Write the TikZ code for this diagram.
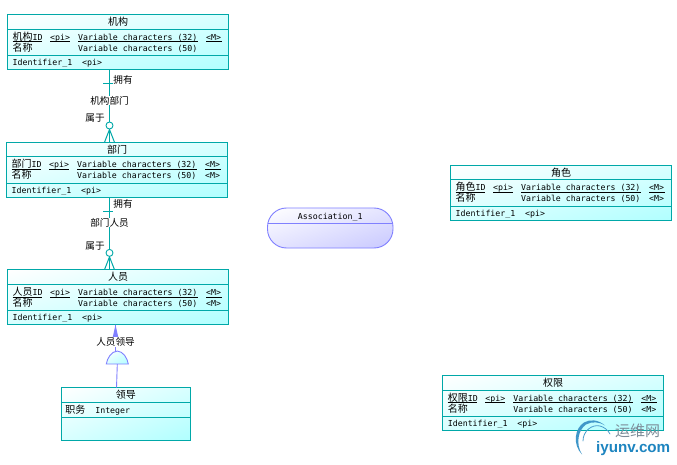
\documentclass[tikz,border=0pt]{standalone}
\usepackage{fontspec}
\setmonofont{DejaVu Sans Mono}
\setsansfont{Liberation Sans}
\newfontfamily\cjk{Noto Sans CJK SC}
\usetikzlibrary{arrows.meta,calc,shadings}
\definecolor{ent}{HTML}{00A8A8}
\definecolor{entfill}{HTML}{B0FFFF}
\definecolor{entmid}{HTML}{D8FFFF}
\definecolor{asc}{HTML}{8080FF}
\definecolor{ascfill}{HTML}{C8C8FF}
\definecolor{ascmid}{HTML}{E4E4FF}
\definecolor{wmblue}{HTML}{1E85C0}
\definecolor{wmgrey}{HTML}{7C8C98}
\tikzset{
  x=1pt,y=1pt,
  entbox/.style={draw=ent,line width=0.9pt,rectangle,inner sep=0,outer sep=0,minimum width=221pt,
    upper left=white,upper right=entmid,lower left=entmid,lower right=entfill,anchor=north west},
  ln/.style={draw=ent,line width=0.9pt},
  conn/.style={draw=ent,line width=1pt},
  inh/.style={draw=asc,line width=0.9pt},
  txt/.style={inner sep=0,anchor=base west,font=\ttfamily\fontsize{8.25}{9}\selectfont,text=black},
  ttl/.style={inner sep=0,anchor=base,font=\ttfamily\fontsize{8.25}{9}\selectfont,text=black},
  lab/.style={inner sep=0.3pt,fill=white,font=\cjk\fontsize{9.6}{10}\selectfont,text=black},
  ul/.style={draw=black,line width=0.6pt},
}
\newcommand{\cj}[1]{{\cjk\fontsize{10}{9}\selectfont #1}}
% name, x, y, title, cjk key, second-row <M>
\newcommand{\entitybox}[6]{%
  \node[entbox,minimum height=55pt] (#1) at (#2,#3) {};
  \draw[ln] ($(#1.north west)+(0,-14.5)$) -- ($(#1.north east)+(0,-14.5)$);
  \draw[ln] ($(#1.north west)+(0,-40.8)$) -- ($(#1.north east)+(0,-40.8)$);
  \node[ttl] (#1t) at ($(#1.north)+(0,-11)$) {\cj{#4}};
  \node[txt] (#1a) at ($(#1.north west)+(5,-25.7)$) {\cj{#5}ID};
  \node[txt] (#1b) at ($(#1.north west)+(42.5,-25.7)$) {<pi>};
  \node[txt] (#1c) at ($(#1.north west)+(70.5,-25.7)$) {Variable characters (32)};
  \node[txt] (#1d) at ($(#1.north west)+(198.5,-25.7)$) {<M>};
  \node[txt] (#1e) at ($(#1.north west)+(5,-36.7)$) {\cj{名称}};
  \node[txt] (#1f) at ($(#1.north west)+(70.5,-36.7)$) {Variable characters (50)};
  \node[txt] (#1g) at ($(#1.north west)+(198.5,-36.7)$) {#6};
  \node[txt] (#1h) at ($(#1.north west)+(5,-51)$) {Identifier\_1\ \ <pi>};
  \draw[ul] ($(#1.north west)+(5,-27.2)$) -- ($(#1.north west)+(34.5,-27.2)$);
  \draw[ul] ($(#1.north west)+(42.5,-27.2)$) -- ($(#1.north west)+(62.5,-27.2)$);
  \draw[ul] ($(#1.north west)+(70.5,-27.2)$) -- ($(#1.north west)+(190.5,-27.2)$);
  \draw[ul] ($(#1.north west)+(198.5,-27.2)$) -- ($(#1.north west)+(214,-27.2)$);
}
% top entity, bottom entity, port offset from west, prefix, port offset, label, label drop, upper role drop
\newcommand{\crowlink}[8]{%
  \path (#1.south west) ++(#3,0) coordinate (#4u);
  \path (#2.north west) ++(#5,0) coordinate (#4d);
  \draw[conn] (#4u) -- (#4d);
  \draw[conn] ($(#4u)+(-6.5,-14)$) -- ($(#4u)+(3,-14)$);
  \node[draw=ent,line width=0.9pt,fill=white,circle,inner sep=0,minimum size=7pt] (#4c) at ($(#4d)+(0,16.8)$) {};
  \draw[conn] (#4c.south) -- ($(#4d)+(-5,0)$);
  \draw[conn] (#4c.south) -- ($(#4d)+(5,0)$);
  \node[lab] (#4r) at ($(#4u)+(13.5,-#8)$) {拥有};
  \node[lab] (#4m) at ($(#4u)+(0,-#7)$) {#6};
  \node[lab] (#4s) at ($(#4d)+(-14.5,24)$) {属于};
}
\begin{document}
\begin{tikzpicture}
\useasboundingbox (0,0) rectangle (677,-465);
\fill[white] (0,0) rectangle (677,-465);

\entitybox{jg}{7.5}{-14.5}{机构}{机构}{}
\entitybox{bm}{6.5}{-142.3}{部门}{部门}{<M>}
\entitybox{ry}{7.5}{-269.7}{人员}{人员}{<M>}
\entitybox{js}{450.5}{-165.3}{角色}{角色}{<M>}
\entitybox{qx}{442.7}{-375.5}{权限}{权限}{<M>}
\node[entbox,minimum width=128.3pt,minimum height=52.3pt] (ld) at (61.7,-387.7) {};
\draw[ln] ($(ld.north west)+(0,-14.5)$) -- ($(ld.north east)+(0,-14.5)$);
\draw[ln] ($(ld.north west)+(0,-29.5)$) -- ($(ld.north east)+(0,-29.5)$);
\node[ttl] (ldt) at ($(ld.north)+(0,-11)$) {\cj{领导}};
\node[txt] (lda) at ($(ld.north west)+(3.5,-25.7)$) {\cj{职务}\ \ Integer};

\node[draw=asc,line width=0.9pt,rectangle,rounded corners=19pt,outer sep=0,minimum width=125.5pt,minimum height=40pt,inner sep=0,
  upper left=white,upper right=ascmid,lower left=ascmid,lower right=ascfill,anchor=north west] (as) at (267.5,-208) {};
\draw[inh] ($(as.north west)+(0.5,-15)$) -- ($(as.north east)+(-0.5,-15)$);
\node[ttl] (ast) at ($(as.north)+(0,-11)$) {Association\_1};

\crowlink{jg}{bm}{102}{a}{103}{机构部门}{31}{10}
\crowlink{bm}{ry}{103}{b}{102}{部门人员}{25.4}{6.7}

% inheritance
\path (ry.south west) ++(108,0) coordinate (iu);
\path (ld.north west) ++(54.8,0) coordinate (id);
\coordinate (ih) at (117.3,-364);
\fill[asc] (iu) -- ($(iu)+(2.8,-12.5)$) -- ($(iu)+(-2.8,-12.5)$) -- cycle;
\draw[inh] (iu) -- ($(iu)+(0,-26)$);
\draw[inh,upper left=white,upper right=entmid,lower left=entmid,lower right=entfill,shade]
  ($(ih)+(-11,0)$) .. controls ($(ih)+(-10,6)$) and ($(ih)+(-6,12.5)$) .. ($(ih)+(0,13)$)
  .. controls ($(ih)+(6,12.5)$) and ($(ih)+(10,6)$) .. ($(ih)+(11,0)$) -- cycle;
\draw[inh] (ih) -- (id);
\node[lab] (il) at (115.5,-342) {人员领导};

% watermark
\fill[wmblue!85] (605,-425.5) .. controls (598,-419.5) and (590,-419) .. (584,-422.5)
  .. controls (575,-428) and (572,-444) .. (582,-454.5)
  .. controls (575.5,-444) and (578,-430) .. (586,-424.5)
  .. controls (592,-421) and (600,-422) .. (605,-425.5) -- cycle;
\draw[wmblue!80,line width=0.8pt,line cap=round] (583,-441) .. controls (583,-431) and (592,-424) .. (600,-426) .. controls (604,-427) and (608,-430) .. (610,-434);
\node[inner sep=0,anchor=west,font=\cjk\fontsize{15}{15}\selectfont,text=wmgrey] (wm1) at (615,-431) {运维网};
\node[inner sep=0,anchor=west,font=\sffamily\bfseries\fontsize{15.2}{15}\selectfont,text=wmblue] (wm2) at (596,-448.5) {iyunv.com};
\end{tikzpicture}
\end{document}
